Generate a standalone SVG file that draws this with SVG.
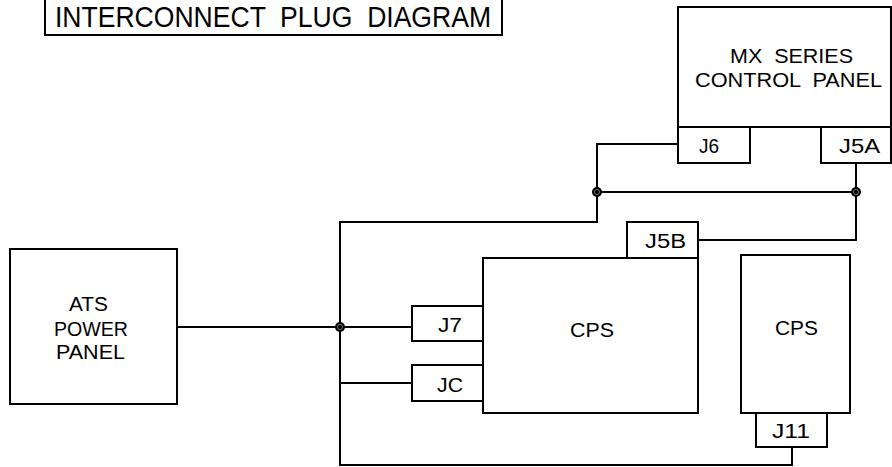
<svg xmlns="http://www.w3.org/2000/svg" width="892" height="467" viewBox="0 0 892 467">
<style>
.box{fill:#fff;stroke:#000;stroke-width:2}
.w{fill:none;stroke:#000;stroke-width:2}
text{font-family:"Liberation Sans",Arial,sans-serif;font-size:20px;fill:#000;text-anchor:middle}
.t{font-size:30px;text-anchor:start}
</style>
<defs>
<g id="dot"><circle r="5" fill="#000"/><circle r="2.6" fill="none" stroke="#777" stroke-width="0.9"/></g>
</defs>
<rect width="892" height="467" fill="#fff"/>
<g id="title">
<rect class="box" x="45" y="-5" width="457" height="40"/>
<text class="t" x="55" y="27" textLength="436" lengthAdjust="spacingAndGlyphs" xml:space="preserve">INTERCONNECT  PLUG  DIAGRAM</text>
</g>
<g id="connectors">
<path class="w" d="M678,144 H597 V222 H340 V465 H792 V447"/>
<path class="w" d="M856,163 V240 H698"/>
<path class="w" d="M597,192 H856"/>
<path class="w" d="M177,327 H412"/>
<path class="w" d="M340,383 H412"/>
<use href="#dot" x="597" y="192"/>
<use href="#dot" x="856" y="192"/>
<use href="#dot" x="340" y="327"/>
</g>
<g id="mx-panel">
<rect class="box" x="678" y="7" width="213" height="120"/>
<text x="791.5" y="63" textLength="123" lengthAdjust="spacingAndGlyphs" xml:space="preserve">MX  SERIES</text>
<text x="788.5" y="87" textLength="187" lengthAdjust="spacingAndGlyphs" xml:space="preserve">CONTROL  PANEL</text>
</g>
<g id="J6">
<rect class="box" x="678" y="127" width="72" height="36"/>
<text x="709" y="153" textLength="20" lengthAdjust="spacingAndGlyphs">J6</text>
</g>
<g id="J5A">
<rect class="box" x="821" y="127" width="70" height="36"/>
<text x="859.5" y="153" textLength="41" lengthAdjust="spacingAndGlyphs">J5A</text>
</g>
<g id="ats">
<rect class="box" x="10" y="249" width="167" height="155"/>
<text x="88.5" y="311" textLength="39" lengthAdjust="spacingAndGlyphs">ATS</text>
<text x="91" y="336" textLength="74" lengthAdjust="spacingAndGlyphs">POWER</text>
<text x="90.5" y="359" textLength="69" lengthAdjust="spacingAndGlyphs">PANEL</text>
</g>
<g id="cps-main">
<rect class="box" x="483" y="258" width="215" height="155"/>
<text x="592" y="337" textLength="44" lengthAdjust="spacingAndGlyphs">CPS</text>
</g>
<g id="J5B">
<rect class="box" x="627" y="222" width="71" height="36"/>
<text x="665.5" y="248" textLength="41" lengthAdjust="spacingAndGlyphs">J5B</text>
</g>
<g id="J7">
<rect class="box" x="412" y="306" width="71" height="35"/>
<text x="450" y="332" textLength="24" lengthAdjust="spacingAndGlyphs">J7</text>
</g>
<g id="JC">
<rect class="box" x="412" y="365" width="71" height="36"/>
<text x="450" y="392" textLength="26" lengthAdjust="spacingAndGlyphs">JC</text>
</g>
<g id="cps-right">
<rect class="box" x="741" y="255" width="109" height="158"/>
<text x="796.5" y="335" textLength="43" lengthAdjust="spacingAndGlyphs">CPS</text>
</g>
<g id="J11">
<rect class="box" x="756" y="413" width="71" height="34"/>
<text x="791" y="438" textLength="38" lengthAdjust="spacingAndGlyphs">J11</text>
</g>
</svg>
